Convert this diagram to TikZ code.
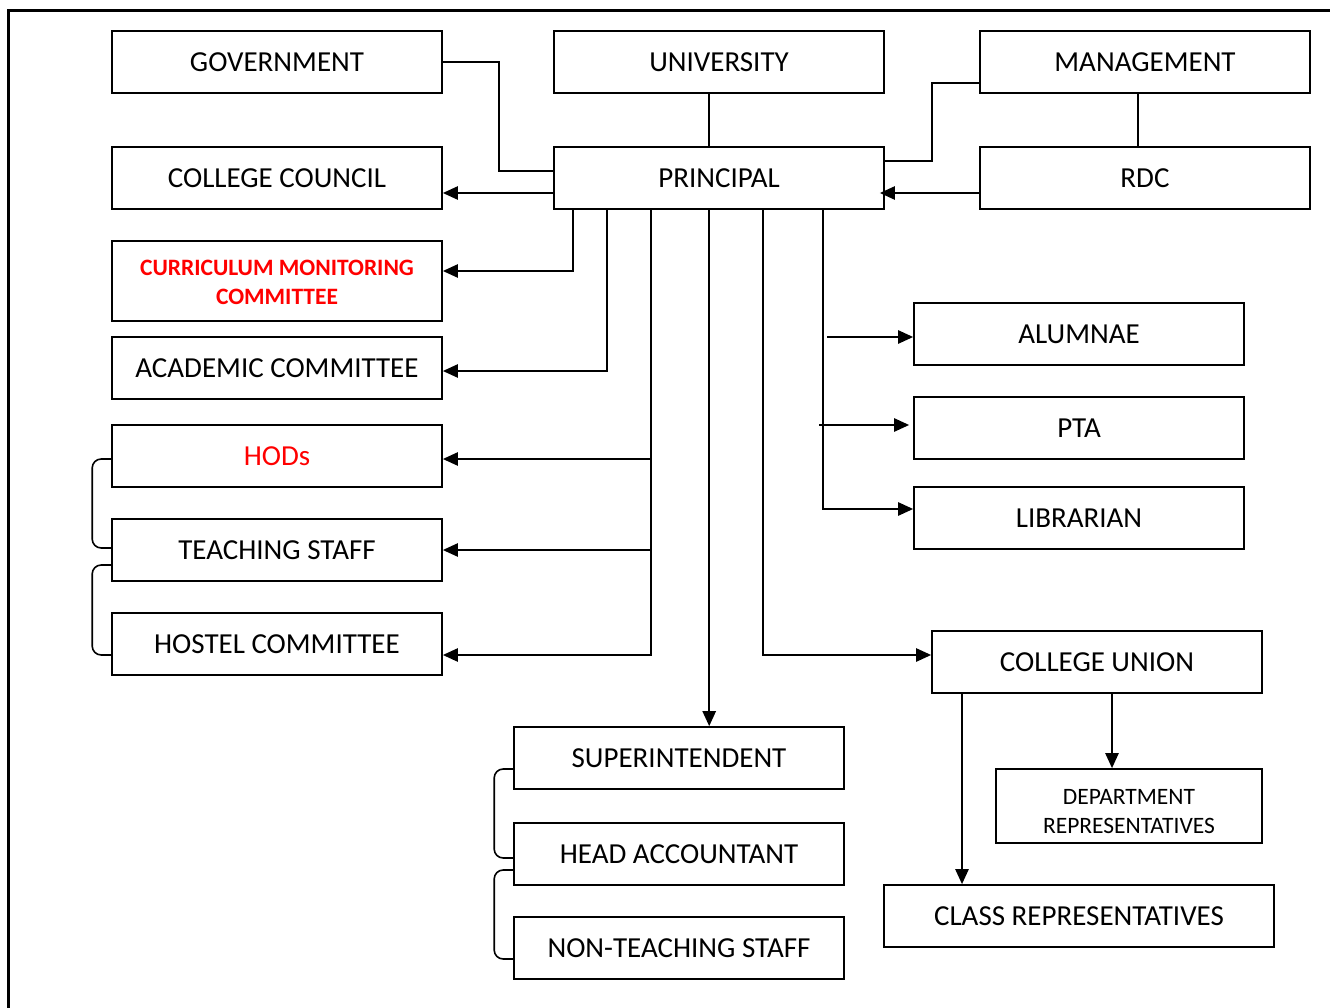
\documentclass[tikz,border=0pt]{standalone}
\usepackage{fontspec}
\setmainfont{Carlito}
\usepackage{tikz}
\usetikzlibrary{arrows.meta, positioning, calc}

\begin{document}
\begin{tikzpicture}[
		x=1pt, y=-1pt,
		every node/.style={font=\fontsize{29}{35}\selectfont},
		box/.style={draw, line width=1.6pt, minimum width=330pt, minimum height=62pt, inner sep=0pt, align=center},
		link/.style={line width=1.6pt},
		arrow/.style={-{Triangle[length=15pt, width=13pt]}, line width=2.4pt},
		bracket/.style={line width=1.6pt, rounded corners=9pt},
		frame/.style={line width=3pt}
		]
		\useasboundingbox (0,0) rectangle (1330,1008);
		
		% === FRAME ===
		\draw[frame] (8,1008) -- (8,11) -- (1330,11);
		
		% === NODES ===
		
		% Top row
		\node [box] (gov) at (277,62) {GOVERNMENT};
		\node [box] (univ) at (719,62) {UNIVERSITY};
		\node [box] (mgmt) at (1145,62) {MANAGEMENT};
		
		% Second row
		\node [box] (council) at (277,178) {COLLEGE COUNCIL};
		\node [box] (principal) at (719,178) {PRINCIPAL};
		\node [box] (rdc) at (1145,178) {RDC};
		
		% Left column
		\node [box, minimum height=80pt, text=red,
		font=\fontsize{23.5}{29}\selectfont\bfseries] (cmc) at (277,281) {\rule{0pt}{18pt}CURRICULUM MONITORING\\COMMITTEE};
		\node [box] (academic) at (277,368) {ACADEMIC COMMITTEE};
		\node [box, text=red] (hods) at (277,456) {HODs};
		\node [box] (teaching) at (277,550) {TEACHING STAFF};
		\node [box] (hostel) at (277,644) {HOSTEL COMMITTEE};
		
		% Right column
		\node [box] (alumnae) at (1079,334) {ALUMNAE};
		\node [box] (pta) at (1079,428) {PTA};
		\node [box] (librarian) at (1079,518) {LIBRARIAN};
		\node [box] (union) at (1097,662) {COLLEGE UNION};
		\node [box, minimum width=266pt, minimum height=74pt,
		font=\fontsize{23.5}{29}\selectfont] (deptrep) at (1129,806) {\rule{0pt}{26pt}DEPARTMENT\\REPRESENTATIVES};
		\node [box, minimum width=390pt] (classrep) at (1079,916) {CLASS REPRESENTATIVES};
		
		% Office column
		\node [box] (supdt) at (679,758) {SUPERINTENDENT};
		\node [box] (headacc) at (679,854) {HEAD ACCOUNTANT};
		\node [box] (nonteach) at (679,948) {NON-TEACHING STAFF};
		
		% Exits under the principal
		\coordinate (pA) at ([xshift=20pt]principal.south west);
		\coordinate (pB) at ([xshift=54pt]principal.south west);
		\coordinate (pC) at ([xshift=98pt]principal.south west);
		\coordinate (pD) at ([xshift=156pt]principal.south west);
		\coordinate (pE) at ([xshift=210pt]principal.south west);
		\coordinate (pF) at ([xshift=270pt]principal.south west);
		
		% Exits under the union
		\coordinate (uA) at ([xshift=-135pt]union.south);
		\coordinate (uB) at ([xshift=15pt]union.south);
		
		% === TOP CONNECTIONS ===
		\draw[link] (gov.east) -- ++(56,0) |- ([yshift=7pt]principal.west);
		\draw[link] (pD |- univ.south) -- (pD |- principal.north);
		\draw[link] ([yshift=-21pt]mgmt.west) -- ++(-47,0) |- ([yshift=17pt]principal.east);
		\draw[link] ([xshift=-7pt]mgmt.south) -- ([xshift=-7pt]rdc.north);
		\draw[arrow] ([yshift=-15pt]rdc.west) -- ([xshift=-5pt, yshift=-15pt]principal.east);
		\draw[arrow] ([yshift=-15pt]principal.west) -- ([yshift=-15pt]council.east);
		
		% === LEFT BRANCHES ===
		\draw[arrow] (pA) |- ([yshift=10pt]cmc.east);
		\draw[arrow] (pB) |- ([yshift=-3pt]academic.east);
		\draw[arrow] (pC) |- ([yshift=-11pt]hostel.east);
		\draw[arrow] ([yshift=-3pt]pC |- hods.east) -- ([yshift=-3pt]hods.east);
		\draw[arrow] (pC |- teaching.east) -- (teaching.east);
		
		% === DOWN TO THE OFFICE ===
		\draw[arrow] (pD) -- (pD |- supdt.north);
		
		% === RIGHT BRANCHES ===
		\draw[arrow] (pF) |- ([yshift=9pt]librarian.west);
		\draw[arrow] ([xshift=4pt, yshift=-3pt]pF |- alumnae.west) -- ([yshift=-3pt]alumnae.west);
		\draw[arrow] ([xshift=-4pt, yshift=3pt]pF |- pta.west) -- ([xshift=-4pt, yshift=3pt]pta.west);
		\draw[arrow] (pE) |- ([yshift=7pt]union.west);
		
		% Union to representatives
		\draw[arrow] (uA) -- (uA |- classrep.north);
		\draw[arrow] (uB) -- (uB |- deptrep.north);
		
		% === BRACKETS ===
		\draw[bracket] ([yshift=-3pt]hods.west) -- ++(-19,0) |- ([yshift=2pt]teaching.west);
		\draw[bracket] ([yshift=-15pt]teaching.west) -- ++(-19,0) |- ([yshift=-11pt]hostel.west);
		\draw[bracket] ([yshift=-11pt]supdt.west) -- ++(-19,0) |- ([yshift=-4pt]headacc.west);
		\draw[bracket] ([yshift=-16pt]headacc.west) -- ++(-19,0) |- ([yshift=-11pt]nonteach.west);
		
	\end{tikzpicture}
\end{document}
